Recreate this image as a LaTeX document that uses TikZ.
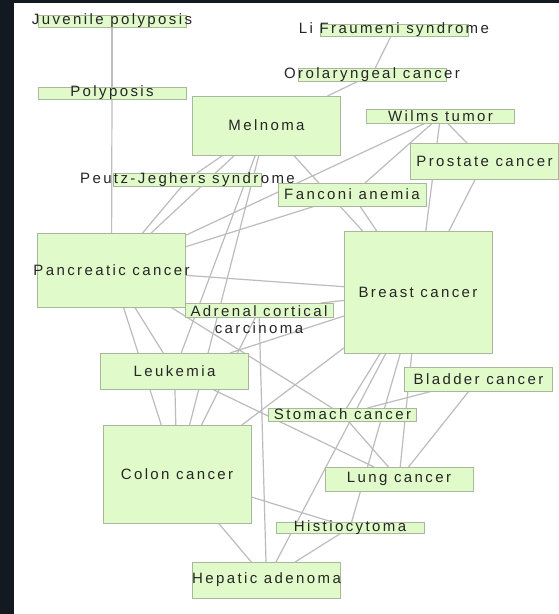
\documentclass[tikz,border=0pt]{standalone}
\usepackage{fontspec}
\setmainfont{Liberation Sans}[LetterSpace=16]
\usetikzlibrary{backgrounds}
\definecolor{frame}{RGB}{19,25,32}
\definecolor{boxfill}{RGB}{225,250,202}
\definecolor{boxline}{RGB}{168,184,156}
\definecolor{edgegray}{RGB}{188,188,188}
\tikzset{
  dis/.style={draw=boxline, fill=boxfill, line width=0.8pt,
    minimum width=148pt, minimum height=#1, inner sep=0pt, outer sep=0pt},
  lbl/.style={font=\fontsize{15}{17}\selectfont, text=black!85, align=center,
    inner sep=0pt},
  link/.style={draw=edgegray, line width=1.2pt}
}

\begin{document}
\begin{tikzpicture}[x=1pt, y=-1pt]
  \begin{scope}[on background layer]
    \fill[frame] (0,0) rectangle (559,614);
    \fill[white] (14,3) rectangle (559,614);
  \end{scope}
  \useasboundingbox (0,0) rectangle (559,614);

  % diseases, top to bottom
  \node[dis=12pt, label={[lbl]center:Juvenile polyposis}] (juvenile) at (112,21) {};
  \node[dis=12pt, label={[lbl]center:Polyposis}] (polyposis) at (112,93) {};
  \node[dis=12pt, label={[lbl]center:Li Fraumeni syndrome}] (lifraumeni) at (394,30) {};
  \node[dis=13pt, label={[lbl]center:Orolaryngeal cancer}] (orolaryngeal) at (372,74.5) {};
  \node[dis=59pt, label={[lbl]center:Melnoma}] (melnoma) at (266.5,125.5) {};
  \node[dis=14pt, label={[lbl]center:Wilms tumor}] (wilms) at (440.5,116) {};
  \node[dis=36pt, label={[lbl]center:Prostate cancer}] (prostate) at (484.5,161) {};
  \node[dis=23pt, label={[lbl]center:Fanconi anemia}] (fanconi) at (352,194.5) {};
  \node[dis=13pt, label={[lbl]center:Peutz-Jeghers syndrome}] (peutz) at (187.5,179.5) {};
  \node[dis=74pt, label={[lbl]center:Pancreatic cancer}] (pancreatic) at (111.5,270) {};
  \node[dis=14pt, label={[lbl, yshift=-10pt]center:Adrenal cortical\\carcinoma}] (adrenal) at (259,310) {};
  \node[dis=122pt, label={[lbl]center:Breast cancer}] (breast) at (418,292) {};
  \node[dis=36pt, label={[lbl]center:Leukemia}] (leukemia) at (174.5,371) {};
  \node[dis=24pt, label={[lbl]center:Bladder cancer}] (bladder) at (478.5,379) {};
  \node[dis=13pt, label={[lbl]center:Stomach cancer}] (stomach) at (342.5,414.5) {};
  \node[dis=98pt, label={[lbl]center:Colon cancer}] (colon) at (177,474) {};
  \node[dis=24pt, label={[lbl]center:Lung cancer}] (lung) at (399,479) {};
  \node[dis=11pt, label={[lbl]center:Histiocytoma}] (histio) at (350,527.5) {};
  \node[dis=36pt, label={[lbl]center:Hepatic adenoma}] (hepatic) at (266.5,580) {};

  % links
  \begin{scope}[on background layer]
    \foreach \a/\b in {juvenile/polyposis, polyposis/pancreatic,
        lifraumeni/orolaryngeal, orolaryngeal/melnoma,
        melnoma/peutz, peutz/pancreatic, melnoma/pancreatic,
        melnoma/leukemia, melnoma/colon, melnoma/breast,
        wilms/prostate, wilms/breast, wilms/fanconi, wilms/pancreatic,
        prostate/breast, fanconi/breast, pancreatic/fanconi,
        pancreatic/breast, pancreatic/leukemia, pancreatic/colon,
        pancreatic/stomach, adrenal/breast, adrenal/colon, adrenal/hepatic,
        leukemia/breast, leukemia/colon, leukemia/lung,
        breast/colon, breast/stomach, breast/lung, breast/histio,
        breast/hepatic, bladder/stomach, bladder/lung, stomach/lung,
        colon/histio, colon/hepatic, histio/hepatic}
      \draw[link] (\a) -- (\b);
  \end{scope}
\end{tikzpicture}
\end{document}
